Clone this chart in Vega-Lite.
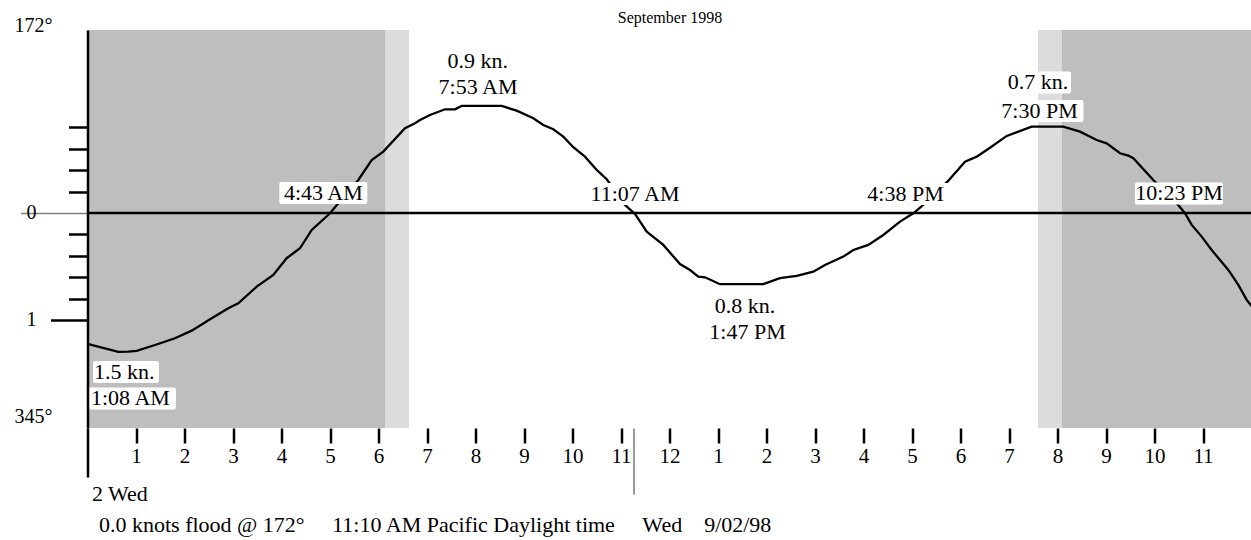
{
  "$schema": "https://vega.github.io/schema/vega-lite/v6.json",
  "width": 1164,
  "height": 398,
  "autosize": "none",
  "padding": {"left": 87.5, "top": 30, "right": 0, "bottom": 112},
  "background": "white",
  "config": {"view": {"stroke": null}, "font": "Liberation Serif"},
  "resolve": {"axis": {"x": "independent", "y": "independent"}},
  "datasets": {
    "light": [
      {"h": 0, "h2": 6.134, "phase": "night"},
      {"h": 6.134, "h2": 6.629, "phase": "twilight"},
      {"h": 19.598, "h2": 20.093, "phase": "twilight"},
      {"h": 20.093, "h2": 24, "phase": "night"}
    ],
    "curve": [
      {"h": 0, "v": -1.224}, {"h": 0.635, "v": -1.298}, {"h": 0.841, "v": -1.296}, {"h": 1.014, "v": -1.29},
      {"h": 1.392, "v": -1.234}, {"h": 1.804, "v": -1.171}, {"h": 2.148, "v": -1.1}, {"h": 2.561, "v": -0.984},
      {"h": 2.903, "v": -0.891}, {"h": 3.109, "v": -0.844}, {"h": 3.489, "v": -0.688}, {"h": 3.831, "v": -0.579},
      {"h": 4.107, "v": -0.423}, {"h": 4.381, "v": -0.33}, {"h": 4.623, "v": -0.159}, {"h": 5.0, "v": -0.003},
      {"h": 5.289, "v": 0.154}, {"h": 5.584, "v": 0.308}, {"h": 5.86, "v": 0.495}, {"h": 6.099, "v": 0.573},
      {"h": 6.546, "v": 0.792}, {"h": 6.753, "v": 0.838}, {"h": 6.856, "v": 0.869}, {"h": 7.062, "v": 0.916},
      {"h": 7.371, "v": 0.969}, {"h": 7.577, "v": 0.969}, {"h": 7.715, "v": 1.0}, {"h": 8.54, "v": 1.0},
      {"h": 8.849, "v": 0.956}, {"h": 9.192, "v": 0.885}, {"h": 9.398, "v": 0.822}, {"h": 9.604, "v": 0.782},
      {"h": 9.81, "v": 0.713}, {"h": 10.016, "v": 0.614}, {"h": 10.258, "v": 0.526}, {"h": 10.499, "v": 0.402},
      {"h": 10.705, "v": 0.315}, {"h": 10.897, "v": 0.196}, {"h": 11.082, "v": 0.075}, {"h": 11.289, "v": -0.009},
      {"h": 11.53, "v": -0.175}, {"h": 11.872, "v": -0.299}, {"h": 12.216, "v": -0.477}, {"h": 12.423, "v": -0.533},
      {"h": 12.594, "v": -0.595}, {"h": 12.732, "v": -0.601}, {"h": 13.041, "v": -0.666}, {"h": 13.934, "v": -0.666},
      {"h": 14.278, "v": -0.61}, {"h": 14.623, "v": -0.589}, {"h": 14.965, "v": -0.549}, {"h": 15.206, "v": -0.486},
      {"h": 15.584, "v": -0.408}, {"h": 15.79, "v": -0.346}, {"h": 16.099, "v": -0.299}, {"h": 16.408, "v": -0.206},
      {"h": 16.753, "v": -0.081}, {"h": 17.027, "v": -0.003}, {"h": 17.233, "v": 0.075}, {"h": 17.495, "v": 0.187},
      {"h": 17.749, "v": 0.302}, {"h": 18.093, "v": 0.479}, {"h": 18.334, "v": 0.526}, {"h": 18.608, "v": 0.61},
      {"h": 18.953, "v": 0.72}, {"h": 19.468, "v": 0.807}, {"h": 20.119, "v": 0.807}, {"h": 20.464, "v": 0.76},
      {"h": 20.808, "v": 0.682}, {"h": 21.014, "v": 0.651}, {"h": 21.289, "v": 0.558}, {"h": 21.46, "v": 0.536},
      {"h": 21.563, "v": 0.511}, {"h": 21.975, "v": 0.308}, {"h": 22.216, "v": 0.196}, {"h": 22.458, "v": 0.091},
      {"h": 22.629, "v": -0.003}, {"h": 22.767, "v": -0.112}, {"h": 22.973, "v": -0.221}, {"h": 23.179, "v": -0.346},
      {"h": 23.522, "v": -0.533}, {"h": 23.728, "v": -0.673}, {"h": 23.901, "v": -0.813}, {"h": 24.0, "v": -0.869}
    ],
    "labels": [
      {"text": "4:43 AM", "h": 4.862, "v": 0.187},
      {"text": "11:07 AM", "h": 11.289, "v": 0.178},
      {"text": "4:38 PM", "h": 16.866, "v": 0.178},
      {"text": "10:23 PM", "h": 22.505, "v": 0.182},
      {"text": "0.9 kn.", "h": 8.045, "v": 1.416},
      {"text": "7:53 AM", "h": 8.052, "v": 1.173},
      {"text": "0.8 kn.", "h": 13.557, "v": -0.874},
      {"text": "1:47 PM", "h": 13.608, "v": -1.112},
      {"text": "0.7 kn.", "h": 19.598, "v": 1.22},
      {"text": "7:30 PM", "h": 19.629, "v": 0.953}
    ],
    "leftLabels": [
      {"text": "1.5 kn.", "h": 0.134, "v": -1.486},
      {"text": "1:08 AM", "h": 0.072, "v": -1.734}
    ],
    "zero": [{"v": 0}]
  },
  "layer": [
    {
      "data": {"name": "light"},
      "mark": {"type": "rect"},
      "encoding": {
        "x": {
          "field": "h", "type": "quantitative",
          "scale": {"domain": [0, 24], "nice": false, "zero": false},
          "axis": {
            "orient": "bottom",
            "values": [0],
            "domain": false, "grid": false, "labels": false,
            "tickSize": 49, "tickWidth": 2.5, "tickColor": "black",
            "title": "2 Wed",
            "titleFont": "Liberation Serif",
            "titleFontSize": 22,
            "titleFontWeight": "normal",
            "titleColor": "black",
            "titleAnchor": "start",
            "titleAlign": "left",
            "titleBaseline": "alphabetic",
            "titleX": 4,
            "titleY": 72,
            "zindex": 1
          }
        },
        "x2": {"field": "h2"},
        "color": {"field": "phase", "type": "nominal", "scale": {"domain": ["night", "twilight"], "range": ["#bebebe", "#dcdcdc"]}, "legend": null}
      }
    },
    {
      "data": {"name": "zero"},
      "mark": {"type": "rule", "color": "black", "strokeWidth": 2.5},
      "encoding": {
        "y": {
          "field": "v", "type": "quantitative",
          "scale": {"domain": [-2.01, 1.71], "nice": false, "zero": false},
          "axis": {
            "orient": "left",
            "values": [0],
            "title": null, "domain": false, "grid": false,
            "tickSize": 67, "tickWidth": 1.5, "tickColor": "#7f7f7f",
            "labelExpr": "'0'",
            "labelPadding": -15.5,
            "labelAlign": "right", "labelBaseline": "middle",
            "labelFont": "Liberation Serif", "labelFontSize": 20, "labelColor": "black",
            "labelBound": false, "labelFlush": false, "labelOverlap": false,
            "zindex": 1
          }
        }
      }
    },
    {
      "data": {"name": "curve"},
      "mark": {"type": "line", "color": "black", "strokeWidth": 2.3, "interpolate": "linear"},
      "encoding": {
        "x": {
          "field": "h", "type": "quantitative",
          "scale": {"domain": [0, 24], "nice": false, "zero": false},
          "axis": {
            "orient": "bottom",
            "values": [1, 2, 3, 4, 5, 6, 7, 8, 9, 10, 11, 12, 13, 14, 15, 16, 17, 18, 19, 20, 21, 22, 23],
            "title": null,
            "domain": false, "grid": false,
            "tickSize": 15, "tickWidth": 2.5, "tickColor": "black",
            "labelExpr": "datum.value % 12 == 0 ? '12' : '' + (datum.value % 12)",
            "labelPadding": 2,
            "labelBaseline": "top",
            "labelFont": "Liberation Serif", "labelFontSize": 21, "labelColor": "black",
            "labelFlush": false, "labelOverlap": false, "labelBound": false,
            "zindex": 1
          }
        },
        "y": {
          "field": "v", "type": "quantitative",
          "scale": {"domain": [-2.01, 1.71], "nice": false, "zero": false},
          "axis": {
            "orient": "left",
            "values": [0.8, 0.6, 0.4, 0.2, -0.2, -0.4, -0.6, -0.8],
            "title": null, "grid": false,
            "domain": true, "domainColor": "black", "domainWidth": 2.5,
            "tickSize": 19, "tickWidth": 2.5, "tickColor": "black",
            "labels": false,
            "zindex": 1
          }
        }
      }
    },
    {
      "data": {"name": "labels"},
      "transform": [{"filter": "indexof(datum.text, 'kn') < 0"}],
      "mark": {"type": "point", "shape": "M-1,-0.214H1V0.214H-1Z", "size": 7056, "filled": true, "fill": "white", "stroke": "white", "strokeWidth": 4, "strokeJoin": "round", "opacity": 1},
      "encoding": {
        "x": {
          "field": "h", "type": "quantitative",
          "scale": {"domain": [0, 24], "nice": false, "zero": false},
          "axis": {
            "orient": "bottom",
            "values": [11.25],
            "title": null, "domain": false, "grid": false, "labels": false,
            "tickSize": 66, "tickWidth": 2, "tickColor": "#999999",
            "zindex": 1
          }
        },
        "y": {
          "field": "v", "type": "quantitative",
          "scale": {"domain": [-2.01, 1.71], "nice": false, "zero": false},
          "axis": {
            "orient": "left",
            "values": [-1],
            "title": null, "domain": false, "grid": false,
            "tickSize": 37, "tickWidth": 2.5, "tickColor": "black",
            "labelExpr": "'1'",
            "labelPadding": 14.5,
            "labelAlign": "right", "labelBaseline": "middle",
            "labelFont": "Liberation Serif", "labelFontSize": 20, "labelColor": "black",
            "labelBound": false, "labelFlush": false, "labelOverlap": false,
            "zindex": 1
          }
        }
      }
    },
    {
      "data": {"name": "labels"},
      "transform": [{"filter": "indexof(datum.text, 'kn') >= 0"}],
      "mark": {"type": "point", "shape": "M-1,-0.29H1V0.29H-1Z", "size": 3844, "filled": true, "fill": "white", "stroke": "white", "strokeWidth": 4, "strokeJoin": "round", "opacity": 1},
      "encoding": {
        "x": {"field": "h", "type": "quantitative", "scale": {"domain": [0, 24], "nice": false, "zero": false}, "axis": null},
        "y": {"field": "v", "type": "quantitative", "scale": {"domain": [-2.01, 1.71], "nice": false, "zero": false}, "axis": null}
      }
    },
    {
      "data": {"name": "leftLabels"},
      "transform": [{"filter": "indexof(datum.text, 'kn') >= 0"}],
      "mark": {"type": "point", "shape": "M-1,-0.29H1V0.29H-1Z", "size": 3844, "xOffset": 32, "filled": true, "fill": "white", "stroke": "white", "strokeWidth": 4, "strokeJoin": "round", "opacity": 1},
      "encoding": {
        "x": {"field": "h", "type": "quantitative", "scale": {"domain": [0, 24], "nice": false, "zero": false}, "axis": null},
        "y": {
          "field": "v", "type": "quantitative",
          "scale": {"domain": [-2.01, 1.71], "nice": false, "zero": false},
          "axis": {
            "orient": "left",
            "values": [1.7],
            "title": null, "domain": false, "grid": false, "ticks": false,
            "labelExpr": "'172°'",
            "labelPadding": 35.5,
            "labelAlign": "right", "labelBaseline": "alphabetic",
            "labelFont": "Liberation Serif", "labelFontSize": 20, "labelColor": "black",
            "labelBound": false, "labelFlush": false, "labelOverlap": false,
            "zindex": 1
          }
        }
      }
    },
    {
      "data": {"name": "leftLabels"},
      "transform": [{"filter": "indexof(datum.text, 'kn') < 0"}],
      "mark": {"type": "point", "shape": "M-1,-0.214H1V0.214H-1Z", "size": 7056, "xOffset": 41, "filled": true, "fill": "white", "stroke": "white", "strokeWidth": 4, "strokeJoin": "round", "opacity": 1},
      "encoding": {
        "x": {"field": "h", "type": "quantitative", "scale": {"domain": [0, 24], "nice": false, "zero": false}, "axis": null},
        "y": {
          "field": "v", "type": "quantitative",
          "scale": {"domain": [-2.01, 1.71], "nice": false, "zero": false},
          "axis": {
            "orient": "left",
            "values": [-1.9],
            "title": null, "domain": false, "grid": false, "ticks": false,
            "labelExpr": "'345°'",
            "labelPadding": 35.5,
            "labelAlign": "right", "labelBaseline": "middle",
            "labelFont": "Liberation Serif", "labelFontSize": 20, "labelColor": "black",
            "labelBound": false, "labelFlush": false, "labelOverlap": false,
            "zindex": 1
          }
        }
      }
    },
    {
      "data": {"name": "labels"},
      "mark": {"type": "text", "font": "Liberation Serif", "fontSize": 22, "align": "center", "baseline": "middle", "color": "black"},
      "encoding": {
        "x": {
          "field": "h", "type": "quantitative",
          "scale": {"domain": [0, 24], "nice": false, "zero": false},
          "axis": {
            "orient": "top",
            "values": [],
            "domain": false, "grid": false, "ticks": false, "labels": false,
            "title": "September 1998",
            "titleFont": "Liberation Serif",
            "titleFontSize": 16,
            "titleFontWeight": "normal",
            "titleColor": "black",
            "titleAlign": "center",
            "titleAnchor": "middle",
            "titleBaseline": "alphabetic",
            "titleX": 582,
            "titleY": -8,
            "zindex": 1
          }
        },
        "y": {"field": "v", "type": "quantitative", "scale": {"domain": [-2.01, 1.71], "nice": false, "zero": false}, "axis": null},
        "text": {"field": "text"}
      }
    },
    {
      "data": {"name": "leftLabels"},
      "mark": {"type": "text", "font": "Liberation Serif", "fontSize": 22, "align": "left", "baseline": "middle", "color": "black"},
      "encoding": {
        "x": {
          "field": "h", "type": "quantitative",
          "scale": {"domain": [0, 24], "nice": false, "zero": false},
          "axis": {
            "orient": "bottom",
            "values": [],
            "domain": false, "grid": false, "ticks": false, "labels": false,
            "title": "0.0 knots flood @ 172°\u00a0\u00a0\u00a0\u00a0\u00a011:10 AM Pacific Daylight time\u00a0\u00a0\u00a0\u00a0\u00a0Wed\u00a0\u00a0\u00a0\u00a09/02/98",
            "titleFont": "Liberation Serif",
            "titleFontSize": 22,
            "titleFontWeight": "normal",
            "titleColor": "black",
            "titleAnchor": "start",
            "titleAlign": "left",
            "titleBaseline": "alphabetic",
            "titleX": 11,
            "titleY": 103,
            "zindex": 1
          }
        },
        "y": {"field": "v", "type": "quantitative", "scale": {"domain": [-2.01, 1.71], "nice": false, "zero": false}, "axis": null},
        "text": {"field": "text"}
      }
    }
  ]
}
